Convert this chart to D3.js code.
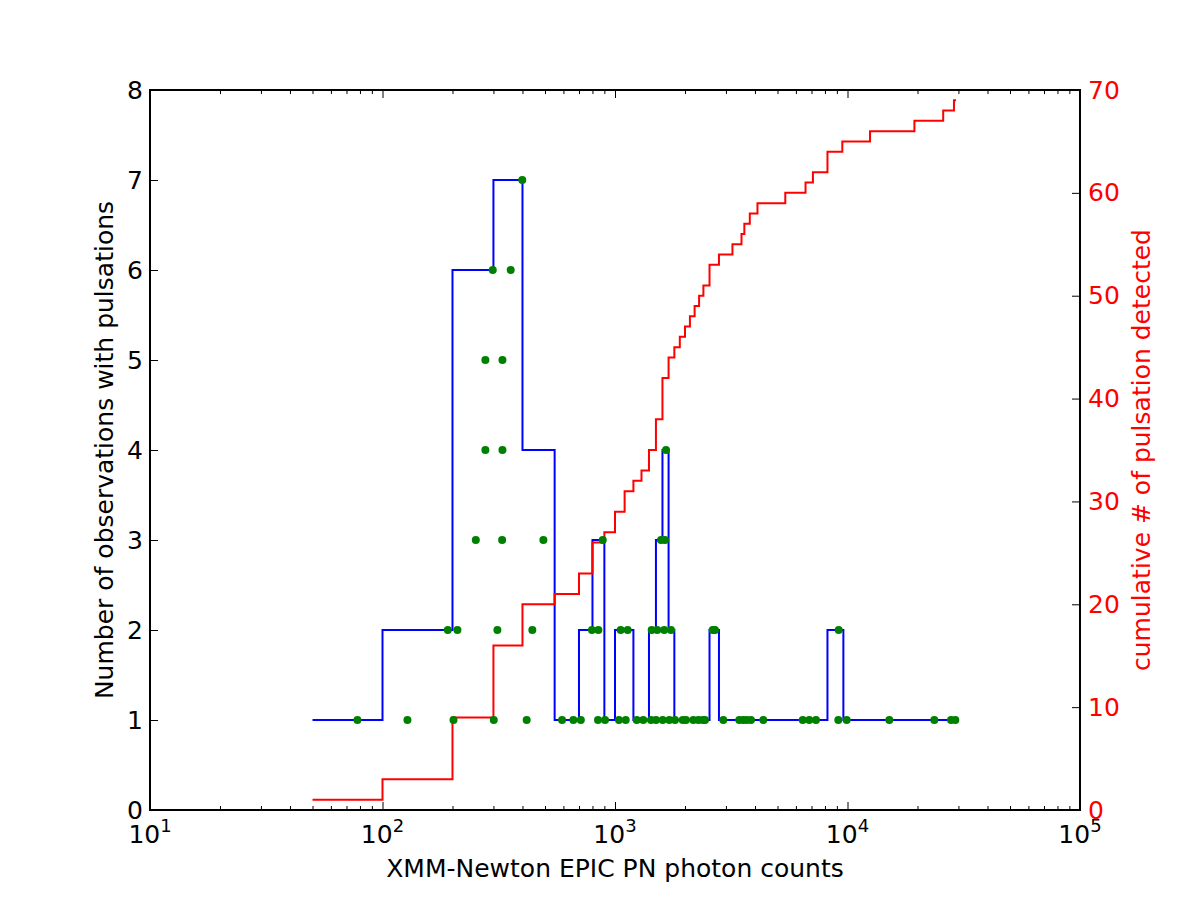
<!DOCTYPE html>
<html>
<head>
<meta charset="utf-8">
<script src="https://cdn.jsdelivr.net/npm/d3@7"></script>
<style>
  body { margin: 0; background: #fff; }
  svg text { font-family: "DejaVu Sans", sans-serif; }
</style>
</head>
<body>
<div id="chart"></div>
<script>
// histogram of observations with pulsations (bin edges in photon counts)
const binEdges = [50, 100, 200, 300, 400, 550, 700, 800, 900, 1000, 1200, 1400, 1500, 1600, 1700, 1800, 2550, 2800, 8200, 9600, 29600];
const binCounts = [1, 2, 6, 7, 4, 1, 2, 3, 1, 2, 1, 2, 3, 4, 2, 1, 2, 1, 2, 1];

// cumulative number of pulsations detected
const cumCounts = [50, 100, 200, 300, 400, 550, 700, 800, 900, 1000, 1100, 1200, 1300, 1400, 1500, 1600, 1700, 1800, 1900, 2000,
  2100, 2200, 2300, 2400, 2550, 2800, 3200, 3500, 3600, 3800, 4100, 5400, 6600, 7100, 8200, 9500, 12500, 19400, 25800, 28700, 29300];
const cumN = [1, 3, 9, 16, 20, 21, 23, 26, 27, 29, 31, 32, 33, 35, 38, 42, 44, 45, 46, 47,
  48, 49, 50, 51, 53, 54, 55, 56, 57, 58, 59, 60, 61, 62, 64, 65, 66, 67, 68, 69, 69];

// individual observations (photon counts, stacked level)
const obsLevel1 = [78, 128, 202, 301, 417, 592, 662, 713, 845, 906, 1040, 1112, 1240, 1323, 1428, 1501, 1604, 1712, 1812, 1956,
  2020, 2172, 2283, 2384, 2439, 2923, 3424, 3562, 3685, 3845, 4343, 6418, 6849, 7318, 9130, 9922, 15130, 23620, 27880, 29090];
const obsLevel2 = [191, 210, 312, 441, 796, 848, 1058, 1134, 1438, 1520, 1629, 1741, 2632, 2692, 9167];
const obsLevel3 = [252, 327, 492, 886, 1577, 1641];
const obsLevel4 = [277, 328, 1657];
const obsLevel5 = [277, 328];
const obsLevel6 = [298, 356];
const obsLevel7 = [399];

const leftTicks = [0, 1, 2, 3, 4, 5, 6, 7, 8];
const rightTicks = [0, 10, 20, 30, 40, 50, 60, 70];
const decades = [1, 2, 3, 4, 5];

const widthSvg = 1200;
const heightSvg = 900;
const margin = { top: 90, right: 120, bottom: 90, left: 150 };
const widthChart = widthSvg - margin.left - margin.right;
const heightChart = heightSvg - margin.top - margin.bottom;
const fontSize = 25;

const scaleX = d3.scaleLog().domain([10, 1e5]).range([0, widthChart]);
const scaleYL = d3.scaleLinear().domain([0, 8]).range([heightChart, 0]);
const scaleYR = d3.scaleLinear().domain([0, 70]).range([heightChart, 0]);

const svg = d3.select('#chart').append('svg')
  .attr('width', widthSvg)
  .attr('height', heightSvg);

const g = svg.append('g')
  .attr('transform', `translate(${margin.left}, ${margin.top})`);

g.append('clipPath').attr('id', 'clip')
  .append('rect').attr('width', widthChart).attr('height', heightChart);

const plot = g.append('g').attr('clip-path', 'url(#clip)');

// blue histogram steps
const histPts = binCounts.map((c, i) => [binEdges[i], c]);
histPts.push([binEdges[binEdges.length - 1], binCounts[binCounts.length - 1]]);

plot.append('path')
  .datum(histPts)
  .attr('fill', 'none')
  .attr('stroke', '#0000ff')
  .attr('stroke-width', 2)
  .attr('d', d3.line()
    .x(d => scaleX(d[0]))
    .y(d => scaleYL(d[1]))
    .curve(d3.curveStepAfter));

// red cumulative steps
plot.append('path')
  .datum(cumCounts.map((c, i) => [c, cumN[i]]))
  .attr('fill', 'none')
  .attr('stroke', '#ff0000')
  .attr('stroke-width', 2)
  .attr('d', d3.line()
    .x(d => scaleX(d[0]))
    .y(d => scaleYR(d[1]))
    .curve(d3.curveStepAfter));

// green points
const levels = [obsLevel1, obsLevel2, obsLevel3, obsLevel4, obsLevel5, obsLevel6, obsLevel7];
const obs = [];
levels.forEach((arr, i) => arr.forEach(c => obs.push({ c: c, n: i + 1 })));

plot.selectAll('.obs')
  .data(obs)
  .enter()
  .append('circle')
  .attr('class', 'obs')
  .attr('cx', d => scaleX(d.c))
  .attr('cy', d => scaleYL(d.n))
  .attr('r', 4)
  .attr('fill', '#008000');

// axes (ticks inward, matplotlib classic look)
const majorX = decades.map(e => Math.pow(10, e));
const minorX = [];
for (let e = 1; e < 5; e++) {
  for (let m = 2; m <= 9; m++) minorX.push(m * Math.pow(10, e));
}

const styleTicks = sel => {
  sel.select('.domain').remove();
  sel.selectAll('.tick line').attr('stroke', '#000').attr('stroke-width', 1);
};

g.append('g')
  .attr('transform', `translate(0, ${heightChart})`)
  .call(d3.axisBottom(scaleX).tickValues(majorX).tickSize(-8).tickFormat(''))
  .call(styleTicks);
g.append('g')
  .attr('transform', `translate(0, ${heightChart})`)
  .call(d3.axisBottom(scaleX).tickValues(minorX).tickSize(-4).tickFormat(''))
  .call(styleTicks);
g.append('g')
  .call(d3.axisTop(scaleX).tickValues(majorX).tickSize(-8).tickFormat(''))
  .call(styleTicks);
g.append('g')
  .call(d3.axisTop(scaleX).tickValues(minorX).tickSize(-4).tickFormat(''))
  .call(styleTicks);

// x tick labels 10^n
const xLabels = g.append('g').selectAll('text')
  .data(decades)
  .enter()
  .append('text')
  .attr('x', d => scaleX(Math.pow(10, d)))
  .attr('y', heightChart + 33)
  .attr('text-anchor', 'middle')
  .attr('font-size', fontSize)
  .attr('fill', '#000');
xLabels.append('tspan').text('10');
xLabels.append('tspan').attr('font-size', 18).attr('dy', -11).text(d => d);

const axisL = g.append('g')
  .call(d3.axisLeft(scaleYL).tickValues(leftTicks).tickSize(-8).tickPadding(7).tickFormat(d3.format('d')))
  .call(styleTicks);
axisL.selectAll('text').attr('font-size', fontSize).attr('fill', '#000');

const axisR = g.append('g')
  .attr('transform', `translate(${widthChart}, 0)`)
  .call(d3.axisRight(scaleYR).tickValues(rightTicks).tickSize(-8).tickPadding(8).tickFormat(d3.format('d')))
  .call(styleTicks);
axisR.selectAll('text').attr('font-size', fontSize).attr('fill', '#ff0000');

// frame
g.append('rect')
  .attr('width', widthChart)
  .attr('height', heightChart)
  .attr('fill', 'none')
  .attr('stroke', '#000')
  .attr('stroke-width', 2);

// axis titles
g.append('text')
  .attr('x', widthChart / 2)
  .attr('y', heightChart + 67)
  .attr('text-anchor', 'middle')
  .attr('font-size', fontSize)
  .text('XMM-Newton EPIC PN photon counts');

g.append('text')
  .attr('transform', `translate(-37, ${heightChart / 2}) rotate(-90)`)
  .attr('text-anchor', 'middle')
  .attr('font-size', fontSize)
  .text('Number of observations with pulsations');

g.append('text')
  .attr('transform', `translate(${widthChart + 70}, ${heightChart / 2}) rotate(-90)`)
  .attr('text-anchor', 'middle')
  .attr('font-size', fontSize)
  .attr('fill', '#ff0000')
  .text('cumulative # of pulsation detected');
</script>
</body>
</html>
